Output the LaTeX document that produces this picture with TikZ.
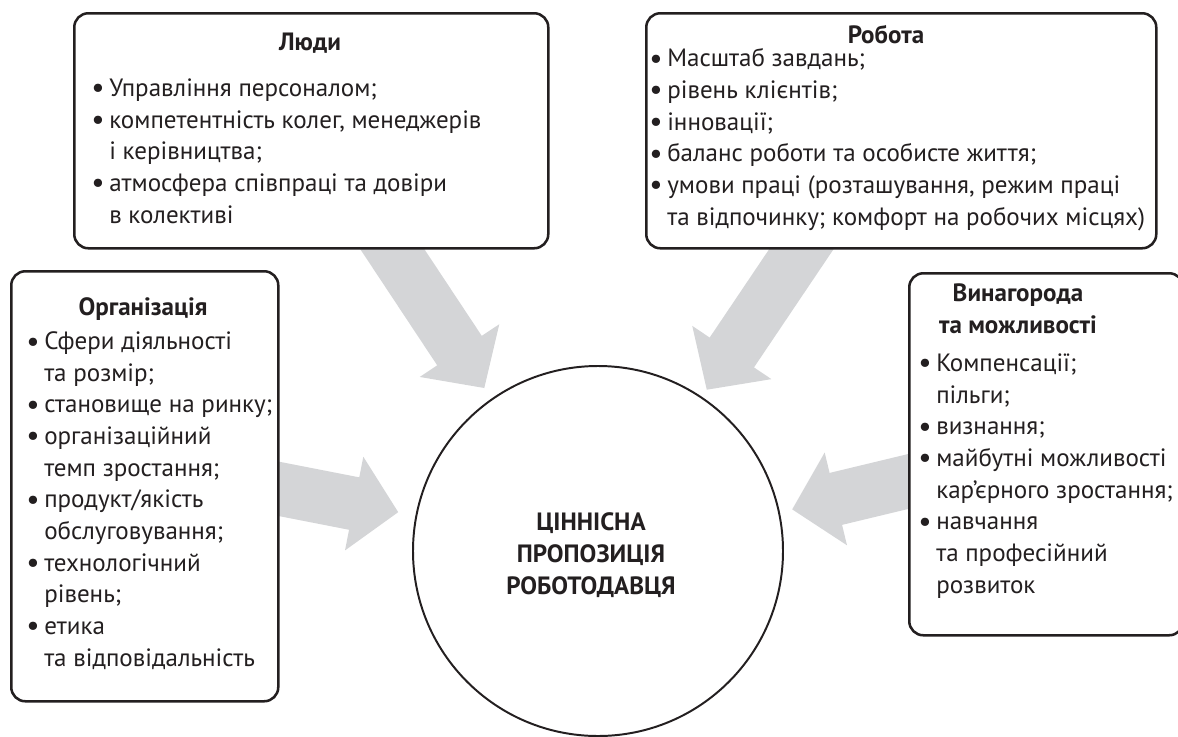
\documentclass[tikz,border=0pt]{standalone}
\usepackage{fontspec}
\setmainfont{PT Sans}
\usetikzlibrary{arrows.meta,backgrounds}
\newdimen\pxu \pxu=0.025cm
\newcommand{\bul}{\makebox[18\pxu][l]{\raisebox{-1pt}{\fontsize{21}{21}\selectfont\textbullet}}}
\newcommand{\ind}{\hspace*{18\pxu}}
\definecolor{arrowgray}{RGB}{212,213,215}
\definecolor{ink}{RGB}{35,31,32}
\begin{document}
\begin{tikzpicture}[x=0.025cm,y=-0.025cm,
    frame/.style={draw=ink,line width=1.8pt,rounded corners=10pt,fill=white,inner sep=0pt,anchor=north west},
    txt/.style={anchor=base west,align=left,inner sep=0pt,text=ink,font=\fontsize{17.8}{22.5}\selectfont},
    ttl/.style={anchor=base,align=center,inner sep=0pt,text=ink,font=\fontsize{17.8}{22.5}\selectfont\bfseries},
    fat/.style={arrowgray,line width=38pt,-{Triangle[length=32pt,width=66pt]}}]
  \useasboundingbox (0,0) rectangle (1178,737);
  \clip (0,0) rectangle (1178,737);

  % frames (anchored at top left)
  \node[frame,minimum width=474\pxu,minimum height=235\pxu] (people) at (73,12) {};
  \node[frame,minimum width=510\pxu,minimum height=235\pxu] (job) at (645,12) {};
  \node[frame,minimum width=267\pxu,minimum height=430\pxu] (org) at (10,270) {};
  \node[frame,minimum width=274\pxu,minimum height=362\pxu] (reward) at (908,272) {};
  \node[draw=ink,line width=1.4pt,circle,fill=white,minimum size=370\pxu] (core) at (598,551) {};

  % titles (base = last line)
  \node[ttl] (people-t) at (310,50) {Люди};
  \node[ttl] (job-t) at (886,43) {Робота};
  \node[ttl] (org-t) at (143,315) {Організація};
  \node[ttl] (reward-t) at (1018,333) {Винагорода\\та можливості};
  \node[ttl] (core-t) at (591,594) {ЦІННІСНА\\ПРОПОЗИЦІЯ\\РОБОТОДАВЦЯ};

  % lists (base = last line)
  \node[txt] (people-l) at (91,223) {\bul Управління персоналом;\\
    \bul компетентність колег, менеджерів\\
    \ind і керівництва;\\
    \bul атмосфера співпраці та довіри\\
    \ind в колективі};
  \node[txt] (job-l) at (649,225) {\bul Масштаб завдань;\\
    \bul рівень клієнтів;\\
    \bul інновації;\\
    \bul баланс роботи та особисте життя;\\
    \bul умови праці (розташування, режим праці\\
    \ind та відпочинку; комфорт на робочих місцях)};
  \node[txt] (org-l) at (26,666) {\bul Сфери діяльності\\
    \ind та розмір;\\
    \bul становище на ринку;\\
    \bul організаційний\\
    \ind темп зростання;\\
    \bul продукт/якість\\
    \ind обслуговування;\\
    \bul технологічний\\
    \ind рівень;\\
    \bul етика\\
    \ind та відповідальність};
  \node[txt] (reward-l) at (918,593) {\bul Компенсації;\\
    \ind пільги;\\
    \bul визнання;\\
    \bul майбутні можливості\\
    \ind кар’єрного зростання;\\
    \bul навчання\\
    \ind та професійний\\
    \ind розвиток};

  % arrows behind
  \coordinate (s1) at (373,220);
  \coordinate (s2) at (821,220);
  \coordinate (s3) at (254,484);
  \coordinate (s4) at (931,476);
  \begin{pgfonlayer}{background}
    \draw[fat,shorten >=9pt] (s1) -- (core.125);
    \draw[fat,shorten >=6pt] (s2) -- (core.56);
    \draw[fat,shorten >=12.4pt] (s3) -- (core.169.5);
    \draw[fat,shorten >=8.9pt] (s4) -- (core.12.2);
  \end{pgfonlayer}
\end{tikzpicture}
\end{document}
